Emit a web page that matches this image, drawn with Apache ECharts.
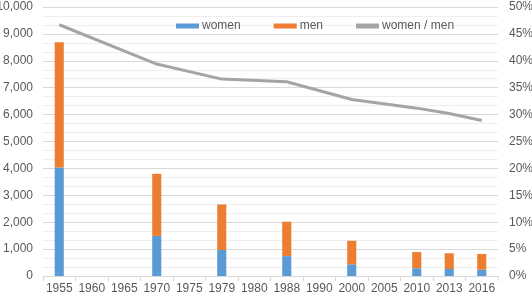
<!DOCTYPE html>
<html>
<head>
<meta charset="utf-8">
<script src="https://cdn.jsdelivr.net/npm/echarts@6/dist/echarts.min.js"></script>
<style>
  html, body { margin: 0; padding: 0; background: #fff; }
  #chart { width: 532px; height: 297px; }
</style>
</head>
<body>
<div id="chart"></div>
<script>
  const years = ['1955', '1960', '1965', '1970', '1975', '1979', '1980', '1988', '1990', '2000', '2005', '2010', '2013', '2016']
  const women = [4030, null, null, 1490, null, 970, null, 740, null, 435, null, 290, 260, 235]
  const men = [4660, null, null, 2310, null, 1690, null, 1280, null, 875, null, 600, 585, 585]
  // women / men, in percent
  const ratio = [46.7, null, null, 39.4, null, 36.6, null, 36.1, null, 32.8, null, 31.2, 30.2, 28.9]

  const chart = echarts.init(document.getElementById('chart'))
  const textColor = '#595959'
  const gridColor = '#d9d9d9'

  const options = {
    animation: false,
    textStyle: { fontFamily: 'Liberation Sans, Arial, sans-serif' },
    legend: {
      top: 15,
      left: 171,
      itemWidth: 23,
      itemHeight: 5,
      itemGap: 33,
      icon: 'rect',
      textStyle: { color: textColor, fontSize: 12, padding: [0, 0, 0, -2] },
      data: ['women', 'men', 'women / men']
    },
    grid: {
      left: 43,
      right: 34,
      top: 7,
      bottom: 21,
      outerBoundsMode: 'none'
    },
    xAxis: {
      type: 'category',
      data: years,
      axisLine: { lineStyle: { color: gridColor } },
      axisTick: { show: true, lineStyle: { color: gridColor } },
      axisLabel: { color: textColor, fontSize: 12, margin: 7, interval: 0, hideOverlap: false }
    },
    yAxis: [
      {
        type: 'value',
        min: 0,
        max: 10000,
        interval: 1000,
        axisLine: { show: false },
        axisTick: { show: false },
        axisLabel: {
          color: textColor,
          fontSize: 12,
          margin: 10,
          formatter: v => v.toLocaleString('en-US')
        },
        splitLine: { lineStyle: { color: gridColor } },
        minorTick: { show: false, splitNumber: 3 },
        minorSplitLine: { show: true, lineStyle: { color: '#eeeeee' } }
      },
      {
        type: 'value',
        min: 0,
        max: 50,
        interval: 5,
        axisLine: { show: false },
        axisTick: { show: false },
        axisLabel: {
          color: textColor,
          fontSize: 12,
          margin: 11,
          formatter: v => v + '%'
        },
        splitLine: { show: false }
      }
    ],
    series: [
      {
        name: 'women',
        type: 'bar',
        stack: 'total',
        barWidth: '28%',
        itemStyle: { color: '#5B9BD5' },
        data: women
      },
      {
        name: 'men',
        type: 'bar',
        stack: 'total',
        barWidth: '28%',
        itemStyle: { color: '#ED7D31' },
        data: men
      },
      {
        name: 'women / men',
        type: 'line',
        yAxisIndex: 1,
        connectNulls: true,
        showSymbol: false,
        symbol: 'none',
        lineStyle: { color: '#A5A5A5', width: 3 },
        itemStyle: { color: '#A5A5A5' },
        data: ratio
      }
    ]
  }

  chart.setOption(options)
</script>
</body>
</html>
